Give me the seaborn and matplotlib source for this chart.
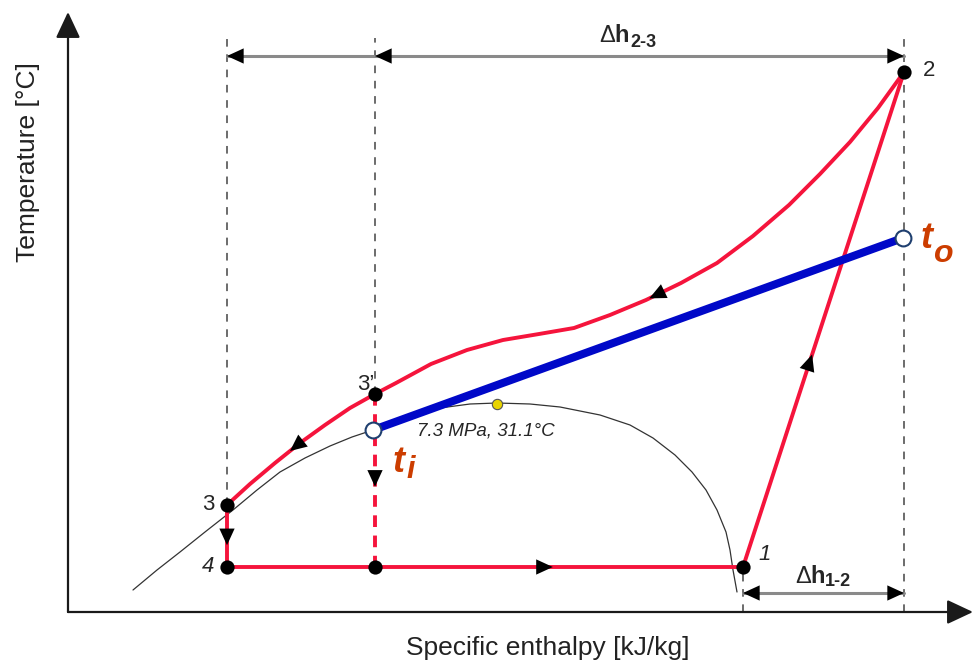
import numpy as np
import matplotlib
matplotlib.use("Agg")
import matplotlib.pyplot as plt
import seaborn as sns

# schematic T-h diagram of a transcritical CO2 cycle (arbitrary units, no ticks)
# saturation dome
h_sat = [65, 89, 112, 137, 165, 189, 212, 237, 262, 284, 305, 332, 372, 402, 429, 462, 492,
         532, 562, 585, 607, 624, 638, 649, 658, 662, 665, 669]
T_sat = [22, 42, 60, 80, 102, 122, 140, 154, 166, 175, 182, 192, 204, 208, 209, 208, 205,
         197, 187, 174, 157, 140, 122, 102, 80, 62, 42, 20]

# gas cooler curve, from point 3 up to point 2
h_gc = [159, 182, 207, 232, 257, 282, 307, 328, 363, 399, 435, 471, 506, 542, 578, 613,
        649, 685, 721, 752, 782, 810, 836]
T_gc = [107, 128, 149, 169, 187, 204, 218, 229, 248, 262, 272, 278, 284, 297, 312, 329,
        349, 376, 407, 438, 470, 504, 540]

# state points
h_1, T_1 = 675, 45
h_2, T_2 = 836, 540
h_3, T_3 = 159, 107
h_3p, T_3p = 307, 218
h_4, T_4 = 159, 45
h_4p, T_4p = 307, 45

# water line t_i -> t_o
h_water = [305, 835]
T_water = [182, 374]

# critical point 7.3 MPa, 31.1 C
h_crit, T_crit = 429, 208

RED = "#f5143c"
BLUE = "#0008c8"
ORANGE = "#cc3d00"

sns.set_theme(style="white")
plt.rcParams["font.family"] = ["Liberation Sans", "DejaVu Sans"]

fig = plt.figure(figsize=(9.75, 6.64), dpi=100)
ax = fig.add_axes([0, 0, 1, 1])
ax.set_xlim(-68, 907)
ax.set_ylim(-52, 612)
ax.axis("off")


def head(ax, x, y, dx, dy):
    # arrow head with its tip at (x, y), pointing along (dx, dy)
    n = np.hypot(dx, dy)
    dx, dy = dx / n, dy / n
    ax.annotate("", xy=(x, y), xytext=(x - dx * 20, y - dy * 20),
                arrowprops=dict(arrowstyle="-|>,head_length=1.2,head_width=0.55", mutation_scale=10,
                                color="black", lw=0, shrinkA=0, shrinkB=0), zorder=6)


def mid_head(ax, x0, y0, x1, y1, at=0.5):
    cx = x0 + at * (x1 - x0)
    cy = y0 + at * (y1 - y0)
    n = np.hypot(x1 - x0, y1 - y0)
    head(ax, cx + (x1 - x0) / n * 8, cy + (y1 - y0) / n * 8, x1 - x0, y1 - y0)


# axes with arrows
axis_arrow = dict(arrowstyle="-|>,head_length=1.6,head_width=0.75", mutation_scale=10,
                  color="#1a1a1a", lw=1.6, shrinkA=0, shrinkB=0)
ax.annotate("", xy=(0, 600), xytext=(0, 0), arrowprops=axis_arrow)
ax.annotate("", xy=(905, 0), xytext=(0, 0), arrowprops=axis_arrow)

# dashed guide lines
guide = dict(color="#444444", lw=1.1, linestyle=(0, (5, 5)), zorder=1)
ax.plot([h_3, h_3], [T_3, 574], **guide)
ax.plot([h_3p, h_3p], [T_3p, 574], **guide)
ax.plot([h_2, h_2], [0, 579], **guide)
ax.plot([h_1, h_1], [0, T_1], **guide)

# enthalpy differences
ax.plot([h_3, h_2], [556, 556], color="#8a8a8a", lw=2.2, zorder=2)
head(ax, h_3, 556, -1, 0)
head(ax, h_3p, 556, -1, 0)
head(ax, h_2, 556, 1, 0)
ax.plot([h_1, h_2], [19, 19], color="#8a8a8a", lw=2.2, zorder=2)
head(ax, h_1, 19, -1, 0)
head(ax, h_2, 19, 1, 0)

ax.text(531, 570, "\u0394", fontsize=17, ha="left", va="baseline")
ax.text(546, 570, "h", fontsize=17, fontweight="bold", ha="left", va="baseline")
ax.text(562, 565, "2-3", fontsize=13, fontweight="bold", ha="left", va="baseline")
ax.text(727, 29, "\u0394", fontsize=17, ha="left", va="baseline")
ax.text(742, 29, "h", fontsize=17, fontweight="bold", ha="left", va="baseline")
ax.text(757, 26, "1-2", fontsize=13, fontweight="bold", ha="left", va="baseline")

# saturation dome
sns.lineplot(x=h_sat, y=T_sat, sort=False, estimator=None, color="#333333", lw=0.9, ax=ax, zorder=2)

# cycle
line = dict(sort=False, estimator=None, color=RED, lw=2.8, ax=ax, zorder=3)
sns.lineplot(x=h_gc, y=T_gc, **line)
sns.lineplot(x=[h_1, h_2], y=[T_1, T_2], **line)
sns.lineplot(x=[h_4, h_1], y=[T_4, T_1], **line)
sns.lineplot(x=[h_3, h_4], y=[T_3, T_4], **line)
ax.plot([h_3p, h_4p], [T_3p, T_4p], color=RED, lw=2.8, linestyle=(0, (3, 2.2)), zorder=3)

# flow direction arrows
mid_head(ax, h_4, T_4, h_1, T_1, 0.616)
mid_head(ax, h_1, T_1, h_2, T_2, 0.414)
mid_head(ax, h_3, T_3, h_4, T_4, 0.52)
mid_head(ax, h_3p, T_3p, h_4p, T_4p, 0.49)
mid_head(ax, h_gc[15], T_gc[15], h_gc[14], T_gc[14], 0.7)
mid_head(ax, h_gc[3], T_gc[3], h_gc[2], T_gc[2], 0.15)

# water line
sns.lineplot(x=h_water, y=T_water, sort=False, estimator=None, color=BLUE, lw=5.8, ax=ax, zorder=4)

# points
sns.scatterplot(x=[h_1, h_2, h_3, h_3p, h_4, h_4p], y=[T_1, T_2, T_3, T_3p, T_4, T_4p],
                s=105, color="black", edgecolor="black", linewidth=0, ax=ax, zorder=7)
sns.scatterplot(x=h_water, y=T_water, s=130, color="white", edgecolor="#1f3f6f",
                linewidth=1.5, ax=ax, zorder=7)
sns.scatterplot(x=[h_crit], y=[T_crit], s=55, color="#e8d400", edgecolor="#555555",
                linewidth=0.8, ax=ax, zorder=7)

# labels
ax.text(855, 542, "2", fontsize=16, ha="left", va="center")
ax.text(306, 228, "3\u2019", fontsize=16, ha="right", va="center")
ax.text(146, 107, "3", fontsize=16, ha="right", va="center")
ax.text(146, 46, "4", fontsize=16, style="italic", ha="right", va="center")
ax.text(690, 57, "1", fontsize=16, style="italic", ha="left", va="center")
ax.text(349, 176, "7.3 MPa, 31.1\u00b0C", fontsize=13.5, style="italic", ha="left", va="baseline")

ax.text(852, 364, "t", fontsize=26, fontweight="bold", style="italic", color=ORANGE, va="baseline")
ax.text(865, 350, "o", fontsize=23, fontweight="bold", style="italic", color=ORANGE, va="baseline")
ax.text(324, 140, "t", fontsize=26, fontweight="bold", style="italic", color=ORANGE, va="baseline")
ax.text(338, 134, "i", fontsize=22, fontweight="bold", style="italic", color=ORANGE, va="baseline")

ax.text(480, -36, "Specific enthalpy [kJ/kg]", fontsize=19, ha="center", va="center", color="#222222")
ax.text(-40, 450, "Temperature [\u00b0C]", fontsize=19, rotation=90, ha="center", va="center", color="#222222")

fig.savefig("out.png", dpi=100)
